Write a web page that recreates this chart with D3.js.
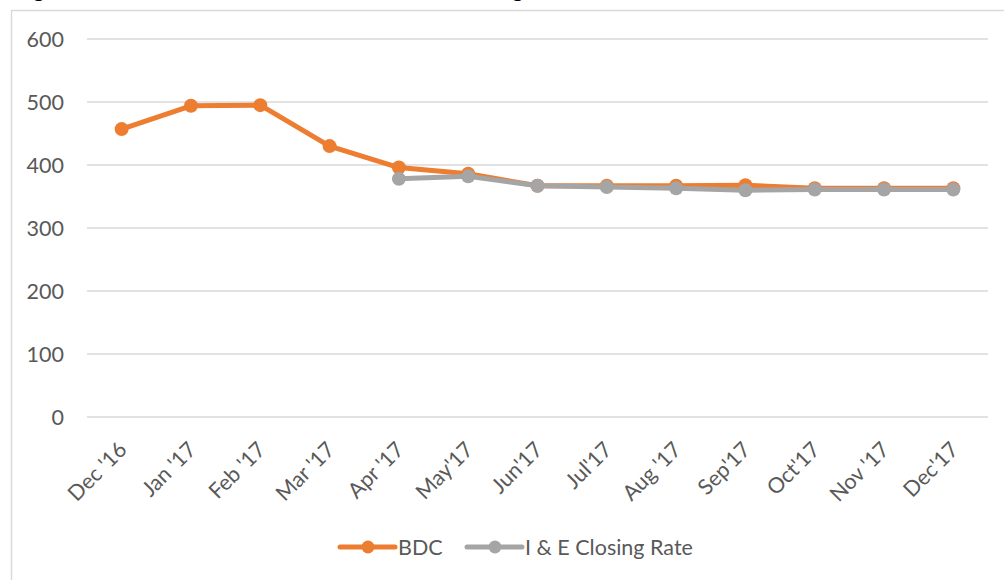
<!DOCTYPE html>
<html><head><meta charset="utf-8">
<script src="https://cdn.jsdelivr.net/npm/d3@7"></script>
<style>body{margin:0;background:#fff;} svg{display:block;font-family:Lato,"Open Sans",sans-serif;}</style>
</head><body>
<script>
const categories = ["Dec '16","Jan '17","Feb '17","Mar '17","Apr '17","May'17","Jun'17","Jul'17","Aug '17","Sep'17","Oct'17","Nov '17","Dec'17"];
const bdc = [457, 494, 495, 430, 396, 386, 367, 367, 367, 368, 363, 363, 363];
const ieClosing = [null, null, null, null, 378, 382, 367, 365, 363, 360, 361, 361, 361];
const yTicks = [0, 100, 200, 300, 400, 500, 600];
const seriesNames = ["BDC", "I & E Closing Rate"];
const colors = ["#ED7D31", "#A5A5A5"];

const W = 1004, H = 580;
const FS = 21.5;
const svg = d3.select("body").append("svg").attr("width", W).attr("height", H);

// cut-off title descenders (title lies above the visible area in the reference)
svg.append("text").attr("x", 33).attr("y", -3).attr("font-weight", "bold").attr("font-size", 22).attr("fill", "#000").text("g");
svg.append("text").attr("x", 512).attr("y", -3).attr("font-weight", "bold").attr("font-size", 22).attr("fill", "#000").text("g");

// chart frame
svg.append("rect").attr("x", 11.5).attr("y", 10.5).attr("width", 1200).attr("height", 800)
  .attr("fill", "none").attr("stroke", "#D9D9D9").attr("stroke-width", 1.5);

const x = d3.scalePoint().domain(categories).range([87, 988]).padding(0.5);
const y = d3.scaleLinear().domain([0, 600]).range([417, 39]);

// gridlines
svg.append("g").selectAll("line").data(yTicks).join("line")
  .attr("x1", 87).attr("x2", 988)
  .attr("y1", d => y(d)).attr("y2", d => y(d))
  .attr("stroke", "#D9D9D9").attr("stroke-width", 1.5);

// y labels
const yAxis = d3.axisLeft(y).tickValues(yTicks).tickSize(0).tickPadding(0);
const ya = svg.append("g").attr("transform", "translate(64,0)").call(yAxis);
ya.select(".domain").remove();
ya.selectAll("text").attr("font-family", "Lato, sans-serif").attr("font-size", FS).attr("fill", "#595959").attr("dy", "0.35em");

// x labels
const xAxis = d3.axisBottom(x).tickSize(0).tickPadding(0);
const xa = svg.append("g").attr("transform", "translate(0,417)").call(xAxis);
xa.select(".domain").remove();
xa.selectAll("text")
  .attr("font-family", "Lato, sans-serif").attr("font-size", FS).attr("fill", "#595959")
  .attr("text-anchor", "end").attr("dy", 0).attr("y", 0)
  .attr("transform", "translate(6,34) rotate(-45)");

const data = [bdc, ieClosing];
data.forEach((vals, i) => {
  const pts = categories.map((c, j) => ({c, v: vals[j]}));
  const line = d3.line().defined(d => d.v != null).x(d => x(d.c)).y(d => y(d.v));
  const g = svg.append("g");
  g.append("path").datum(pts).attr("d", line).attr("fill", "none")
    .attr("stroke", colors[i]).attr("stroke-width", 5).attr("stroke-linejoin", "round");
  g.selectAll("circle").data(pts.filter(d => d.v != null)).join("circle")
    .attr("cx", d => x(d.c)).attr("cy", d => y(d.v)).attr("r", 7).attr("fill", colors[i]);
});

// legend
const legendX = [340, 467];
seriesNames.forEach((name, i) => {
  const lg = svg.append("g").attr("transform", `translate(${legendX[i]},547)`);
  lg.append("line").attr("x1", 0).attr("x2", 55).attr("y1", 0).attr("y2", 0)
    .attr("stroke", colors[i]).attr("stroke-width", 5).attr("stroke-linecap", "round");
  lg.append("circle").attr("cx", 28).attr("cy", 0).attr("r", 6.5).attr("fill", colors[i]);
  lg.append("text").attr("x", 58).attr("y", 0).attr("dy", "0.35em")
    .attr("font-family", "Lato, sans-serif").attr("font-size", FS).attr("fill", "#595959").text(name);
});
</script>
</body></html>
